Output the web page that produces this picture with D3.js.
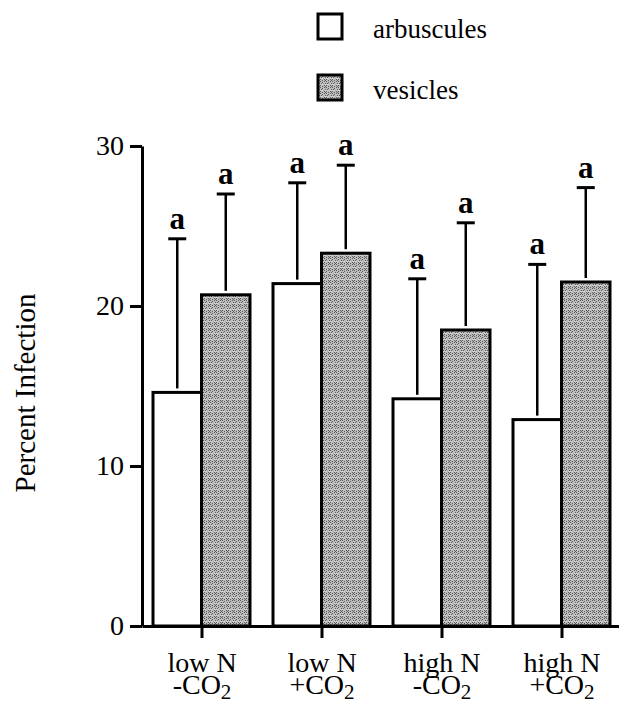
<!DOCTYPE html>
<html>
<head>
<meta charset="utf-8">
<script src="https://cdn.jsdelivr.net/npm/d3@7"></script>
<style>
  body { margin: 0; background: #fff; }
  svg text { font-family: "Liberation Serif", "Times New Roman", Times, "DejaVu Serif", serif !important; fill: #000; }
</style>
</head>
<body>
<div id="chart"></div>
<script>
// values
const categories = ['lowN-', 'lowN+', 'highN-', 'highN+'];
const nLabels = ['low N', 'low N', 'high N', 'high N'];
const co2Labels = ['-CO', '+CO', '-CO', '+CO'];
const series = ['arbuscules', 'vesicles'];
const arbuscules = [14.6, 21.4, 14.2, 12.9];
const arbusculesErr = [9.6, 6.3, 7.5, 9.7];
const vesicles = [20.7, 23.3, 18.5, 21.5];
const vesiclesErr = [6.3, 5.5, 6.7, 5.9];
const letters = ['a', 'a', 'a', 'a'];
const yTicks = [0, 10, 20, 30];

const width = 619;
const height = 704;
const serif = '"Liberation Serif", "Times New Roman", Times, "DejaVu Serif", serif';

const svg = d3.select('#chart')
  .append('svg')
  .attr('width', width)
  .attr('height', height)
  .attr('font-family', serif);

// stippled grey fill like the printed figure
const defs = svg.append('defs');
const pat = defs.append('pattern')
  .attr('id', 'stipple')
  .attr('patternUnits', 'userSpaceOnUse')
  .attr('width', 6)
  .attr('height', 6);
pat.append('rect').attr('width', 6).attr('height', 6).attr('fill', '#bdbdbd');
const dots = [[0,0],[2,0],[4,1],[1,2],[3,2],[5,3],[0,4],[2,4],[4,5],[1,5]];
dots.forEach(([px, py]) => {
  pat.append('rect').attr('x', px).attr('y', py).attr('width', 1).attr('height', 1)
    .attr('fill', '#5a5a5a').attr('shape-rendering', 'crispEdges');
});
pat.append('rect').attr('x', 0).attr('y', 3).attr('width', 6).attr('height', 1)
  .attr('fill', '#dcdcdc').attr('opacity', 0.6);

const y = d3.scaleLinear().domain([0, 30]).range([626, 146]);
const x = d3.scaleBand().domain(categories).range([142, 622]).padding(0);
const x1 = d3.scaleBand().domain(series).range([11, 108]).padding(0);

// y axis
const yAxis = svg.append('g')
  .attr('transform', 'translate(142,0)')
  .call(d3.axisLeft(y).tickValues(yTicks).tickSize(12).tickSizeOuter(0).tickPadding(6));
yAxis.attr('font-family', serif);
yAxis.select('.domain').attr('stroke-width', 3);
yAxis.selectAll('.tick line').attr('stroke-width', 3);
yAxis.selectAll('.tick text').attr('font-size', 28);

// bars
const rows = categories.map((c, i) => ({
  cat: c,
  vals: [
    { key: 'arbuscules', v: arbuscules[i], e: arbusculesErr[i] },
    { key: 'vesicles', v: vesicles[i], e: vesiclesErr[i] }
  ]
}));

const groups = svg.selectAll('.grp')
  .data(rows)
  .enter()
  .append('g')
  .attr('class', 'grp')
  .attr('transform', d => `translate(${x(d.cat)},0)`);

groups.selectAll('rect.bar')
  .data(d => d.vals)
  .enter()
  .append('rect')
  .attr('class', 'bar')
  .attr('x', d => x1(d.key))
  .attr('width', x1.bandwidth())
  .attr('y', d => y(d.v))
  .attr('height', d => y(0) - y(d.v))
  .attr('fill', d => d.key === 'vesicles' ? 'url(#stipple)' : '#fff')
  .attr('stroke', '#000')
  .attr('stroke-width', 3);

// upper error bars only
groups.selectAll('line.err')
  .data(d => d.vals)
  .enter()
  .append('line')
  .attr('class', 'err')
  .attr('x1', d => x1(d.key) + x1.bandwidth() / 2)
  .attr('x2', d => x1(d.key) + x1.bandwidth() / 2)
  .attr('y1', d => y(d.v) - 4)
  .attr('y2', d => y(d.v + d.e))
  .attr('stroke', '#000')
  .attr('stroke-width', 2.5);

groups.selectAll('line.cap')
  .data(d => d.vals)
  .enter()
  .append('line')
  .attr('class', 'cap')
  .attr('x1', d => x1(d.key) + x1.bandwidth() / 2 - 9)
  .attr('x2', d => x1(d.key) + x1.bandwidth() / 2 + 9)
  .attr('y1', d => y(d.v + d.e))
  .attr('y2', d => y(d.v + d.e))
  .attr('stroke', '#000')
  .attr('stroke-width', 3);

groups.selectAll('text.sig')
  .data((d, i) => d.vals.map(v => Object.assign({ letter: letters[i] }, v)))
  .enter()
  .append('text')
  .attr('class', 'sig')
  .attr('x', d => x1(d.key) + x1.bandwidth() / 2)
  .attr('y', d => y(d.v + d.e) - 10)
  .attr('text-anchor', 'middle')
  .attr('font-size', 31)
  .attr('font-weight', 'bold')
  .text(d => d.letter);

// x axis
const xAxis = svg.append('g')
  .attr('transform', 'translate(0,626)')
  .call(d3.axisBottom(x).tickSize(12).tickSizeOuter(0).tickFormat(''));
xAxis.select('.domain').attr('stroke-width', 3);
xAxis.selectAll('.tick line').attr('stroke-width', 3);

// two-line category labels, one text element each
const xl = svg.selectAll('.xlab')
  .data(categories)
  .enter()
  .append('text')
  .attr('class', 'xlab')
  .attr('transform', d => `translate(${x(d) + x.bandwidth() / 2},0)`)
  .attr('text-anchor', 'middle')
  .attr('font-size', 28);
xl.append('tspan')
  .attr('x', 0)
  .attr('y', 672)
  .text((d, i) => nLabels[i]);
xl.append('tspan')
  .attr('x', 0)
  .attr('y', 694)
  .text((d, i) => co2Labels[i]);
xl.append('tspan').attr('font-size', 21).attr('dy', 5).text('2');

// y label
svg.append('text')
  .attr('transform', 'translate(35,393) rotate(-90)')
  .attr('text-anchor', 'middle')
  .attr('font-size', 29)
  .text('Percent Infection');

// legend
const legend = svg.selectAll('.leg')
  .data(series)
  .enter()
  .append('g')
  .attr('class', 'leg')
  .attr('transform', (d, i) => `translate(318,${14 + i * 61})`);
legend.append('rect')
  .attr('width', 24)
  .attr('height', 25)
  .attr('fill', d => d === 'vesicles' ? 'url(#stipple)' : '#fff')
  .attr('stroke', '#000')
  .attr('stroke-width', 3);
legend.append('text')
  .attr('x', 55)
  .attr('y', 24)
  .attr('font-size', 27)
  .text(d => d);
</script>
</body>
</html>
